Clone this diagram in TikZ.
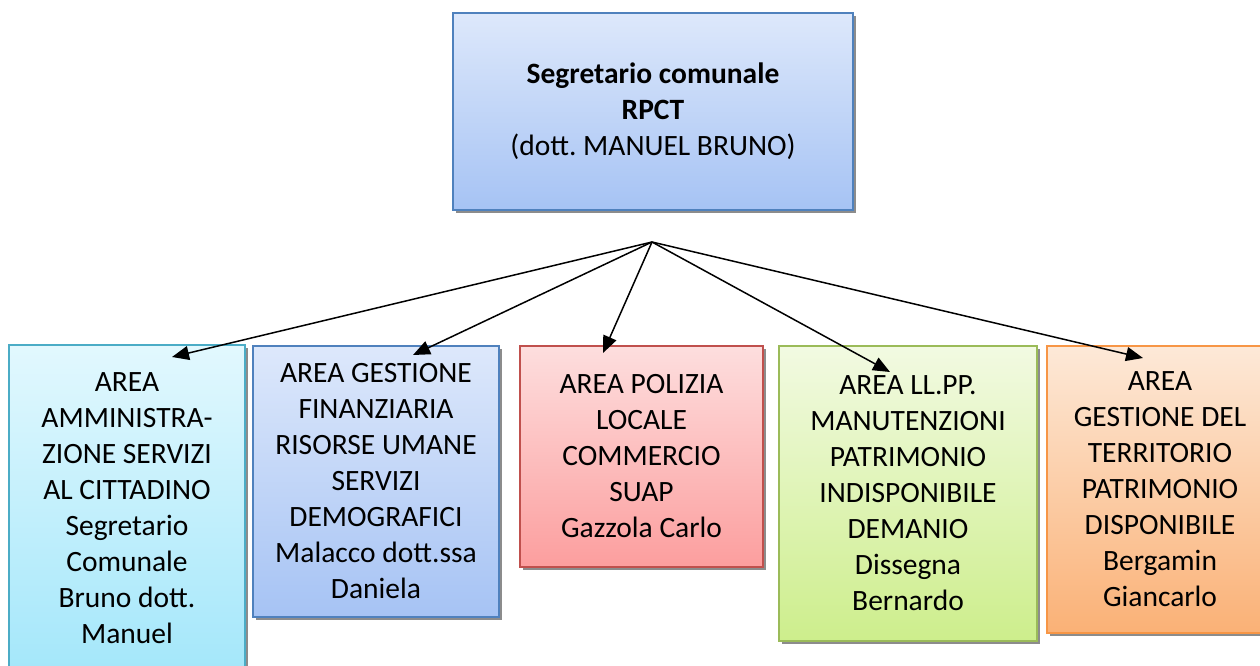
\documentclass[tikz,border=0pt]{standalone}
\usepackage{fontspec}
\setmainfont{Carlito}
\frenchspacing
\usetikzlibrary{arrows.meta,shadows}
\definecolor{topA}{HTML}{DDE8FB}
\definecolor{topB}{HTML}{A6C3F4}
\definecolor{blueline}{HTML}{4F81BD}
\definecolor{cyA}{HTML}{E2F8FE}
\definecolor{cyB}{HTML}{A4E7FA}
\definecolor{cyline}{HTML}{4BACC6}
\definecolor{reA}{HTML}{FDDEDE}
\definecolor{reB}{HTML}{FC9E9E}
\definecolor{reline}{HTML}{C0504D}
\definecolor{grA}{HTML}{F2FAE2}
\definecolor{grB}{HTML}{CDEE8C}
\definecolor{grline}{HTML}{9BBB59}
\definecolor{orA}{HTML}{FDE9D8}
\definecolor{orB}{HTML}{FAB176}
\definecolor{orline}{HTML}{F79646}
\tikzset{
  boxnode/.style={draw, line width=1.4pt, inner sep=0pt, align=center,
    font=\fontsize{29.5}{36}\selectfont,
    drop shadow={shadow xshift=3pt, shadow yshift=-3pt, fill=black, opacity=0.45}},
  conn/.style={line width=1.5pt, -{Triangle[length=17pt,width=14pt]}}
}
\begin{document}
\begin{tikzpicture}[x=1pt,y=-1pt]
\useasboundingbox (0,0) rectangle (1260,666);
\begin{scope}
\clip (0,0) rectangle (1260,666);
\node[boxnode, draw=blueline, top color=topA, bottom color=topB,
  minimum width=400pt, minimum height=197pt] (top) at (653,111.5)
  {\textbf{Segretario comunale}\\\textbf{RPCT}\\(dott. MANUEL BRUNO)};
\node[boxnode, draw=cyline, top color=cyA, bottom color=cyB,
  minimum width=236pt, minimum height=327pt] (b1) at (127,508.5)
  {AREA\\AMMINISTRA-\\ZIONE SERVIZI\\AL CITTADINO\\Segretario\\Comunale\\Bruno dott.\\Manuel};
\node[boxnode, draw=blueline, top color=topA, bottom color=topB,
  minimum width=246pt, minimum height=271pt] (b2) at (376,481.5)
  {AREA GESTIONE\\FINANZIARIA\\RISORSE UMANE\\SERVIZI\\DEMOGRAFICI\\Malacco dott.ssa\\Daniela};
\node[boxnode, draw=reline, top color=reA, bottom color=reB,
  minimum width=243pt, minimum height=221pt] (b3) at (641.5,456.5)
  {AREA POLIZIA\\LOCALE\\COMMERCIO\\SUAP\\Gazzola Carlo};
\node[boxnode, draw=grline, top color=grA, bottom color=grB,
  minimum width=258pt, minimum height=295pt] (b4) at (908,493.5)
  {AREA LL.PP.\\MANUTENZIONI\\PATRIMONIO\\INDISPONIBILE\\DEMANIO\\Dissegna\\Bernardo};
\node[boxnode, draw=orline, top color=orA, bottom color=orB,
  minimum width=226pt, minimum height=287pt] (b5) at (1160,489.5)
  {AREA\\GESTIONE DEL\\TERRITORIO\\PATRIMONIO\\DISPONIBILE\\Bergamin\\Giancarlo};
\end{scope}
\coordinate (hub) at (652,242);
\coordinate (e1) at (172,357);
\coordinate (e2) at (413,355);
\coordinate (e3) at (603,353);
\coordinate (e4) at (890,372);
\coordinate (e5) at (1143,358);
\foreach \e in {e1,e2,e3,e4,e5}{\draw[conn] (hub) -- (\e);}
\end{tikzpicture}
\end{document}
